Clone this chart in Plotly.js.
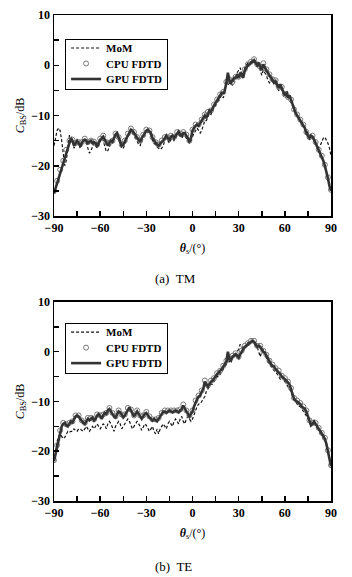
<!DOCTYPE html>
<html>
<head>
<meta charset="utf-8">
<script src="https://cdn.plot.ly/plotly-3.0.1.min.js"></script>
<style>html,body{margin:0;padding:0;background:#fff;}#chart{width:352px;height:577px;}</style>
</head>
<body>
<div id="chart"></div>
<script>
// angle grids (degrees)
var theta1 = [-90,-89,-88,-87,-86,-85,-84,-83,-82,-81,-80,-79,-78,-77,-76,-75,-74,-73,-72,-71,-70,-69,-68,-67,-66,-65,-64,-63,-62,-61,-60,-59,-58,-57,-56,-55,-54,-53,-52,-51,-50,-49,-48,-47,-46,-45,-44,-43,-42,-41,-40,-39,-38,-37,-36,-35,-34,-33,-32,-31,-30,-29,-28,-27,-26,-25,-24,-23,-22,-21,-20,-19,-18,-17,-16,-15,-14,-13,-12,-11,-10,-9,-8,-7,-6,-5,-4,-3,-2,-1,0,1,2,3,4,5,6,7,8,9,10,11,12,13,14,15,16,17,18,19,20,21,22,23,24,25,26,27,28,29,30,31,32,33,34,35,36,37,38,39,40,41,42,43,44,45,46,47,48,49,50,51,52,53,54,55,56,57,58,59,60,61,62,63,64,65,66,67,68,69,70,71,72,73,74,75,76,77,78,79,80,81,82,83,84,85,86,87,88,89,90];
var theta2 = [-90,-88,-86,-84,-82,-80,-78,-76,-74,-72,-70,-68,-66,-64,-62,-60,-58,-56,-54,-52,-50,-48,-46,-44,-42,-40,-38,-36,-34,-32,-30,-28,-26,-24,-22,-20,-18,-16,-14,-12,-10,-8,-6,-4,-2,0,2,4,6,8,10,12,14,16,18,20,22,24,26,28,30,32,34,36,38,40,42,44,46,48,50,52,54,56,58,60,62,64,66,68,70,72,74,76,78,80,82,84,86,88,90];

// (a) TM
var tmMoM = [-16,-14.5,-13,-12.5,-13,-15,-18,-20,-19,-16,-14,-14,-15,-16.5,-16,-15,-15.5,-16.5,-16,-15,-15,-15.5,-16.5,-17.5,-17,-16,-15.5,-16,-16.5,-16,-15,-14.5,-15,-16,-17.2,-17,-16,-15.5,-15.5,-14.8,-14,-14,-15,-16,-16.5,-16.5,-15.8,-15,-14,-13.5,-13.2,-13.5,-14,-14.5,-15,-15.8,-16,-15,-14.5,-14,-13.5,-13.2,-13.5,-14,-15,-15.5,-16,-16.3,-16.5,-16.8,-16.5,-16,-15,-14.5,-15,-15.5,-14.8,-14.5,-15,-14.5,-14,-13.8,-14.2,-14.5,-14,-14,-14.5,-15,-15.5,-15,-14,-13.5,-13,-12.5,-13,-13.5,-13,-12,-11,-11,-10,-9.5,-9.8,-9,-8.5,-8,-7.5,-7,-6.5,-6,-6.5,-5.5,-3,-4,-3.5,-3.5,-4,-3,-2,-1.5,-1,-0.5,-1.5,-2,-0.5,0,0.5,0.5,0.8,1,1.2,0.8,-0.5,0,-1,-2,-1,-1.5,-2,-3,-3.5,-3,-2.5,-3,-3.5,-4.5,-5,-4.5,-5,-5.5,-6,-5,-5.5,-6.5,-7.5,-8.5,-9,-9.5,-10,-10.5,-11,-11.5,-12,-12.5,-13,-13.5,-14,-14,-14.5,-15,-15.5,-16,-16.5,-16,-15,-14.5,-14.3,-14.8,-15.5,-16.5,-18];
var tmCPU = [-25,-23,-20.8,-19,-16.8,-15,-14.8,-15.5,-15.3,-15.3,-14.6,-15.3,-15,-15.2,-15.8,-14.6,-14,-15.3,-15.4,-15,-13.6,-14.3,-15.8,-15,-13.6,-12.6,-13.3,-14.3,-15,-13.8,-12.8,-13,-14.3,-15.3,-15.8,-15,-14.3,-14.3,-14,-14.3,-13.3,-13.6,-13.3,-13.8,-15,-12.8,-11.8,-11.8,-10.8,-9.8,-9.3,-9,-7.8,-6.8,-5.8,-5.3,-3.3,-2.8,-3.3,-2.3,-2.3,-1.8,-0.8,0.2,0.7,1.2,0.2,-0.3,0.4,-0.8,-1.8,-2.8,-3,-4.3,-4.3,-5.8,-6.3,-6.8,-8.8,-9.8,-10.8,-11.8,-13.3,-14.3,-14,-15.3,-16.8,-18,-19.8,-22.3,-24.8];
var tmGPU = [-25.5,-24.5,-23,-22,-21,-20,-19,-18,-17,-16,-15,-14.5,-15,-16,-15.5,-15,-15.5,-16,-15.5,-15,-14.8,-15,-15.5,-15.2,-15,-15.5,-15.3,-15.5,-16,-15.5,-14.8,-14.5,-14.2,-14.8,-15.5,-16,-15.5,-15,-15.2,-14.5,-13.8,-13.5,-14.5,-15.5,-16,-15.8,-15.2,-14.5,-13.8,-13.2,-12.8,-13,-13.5,-14,-14.5,-15,-15.3,-14.5,-14,-13.5,-13,-12.8,-13.2,-13.5,-14.5,-15,-15.5,-15.8,-16,-15.5,-15.2,-15,-14.5,-14,-14.5,-14.8,-14.2,-14,-14.5,-14,-13.5,-13.2,-13.8,-14,-13.5,-13.5,-14,-14.5,-15.3,-14.5,-13,-12.5,-12,-11.8,-12,-11.5,-11,-10.5,-10,-10.5,-9.5,-9,-9.2,-8.5,-8,-7.5,-7,-6.5,-6,-5.5,-5.5,-5,-3.5,-1.5,-3,-3.5,-3,-2.5,-2.5,-2,-2.5,-1.5,-2,-2.5,-1,-0.5,0,0.2,0.5,0.8,1,0.5,0,0.5,-0.5,-1,0.2,-0.5,-1,-1.5,-2,-2.5,-3,-3.5,-3.2,-4,-4.5,-3.8,-4.5,-5.5,-6,-5.5,-6.5,-6,-7,-8,-9,-9.5,-10,-10.5,-11,-11.5,-12,-12.5,-13.5,-14,-14.5,-14,-14.2,-14.8,-15.5,-16.2,-17,-17.5,-18.2,-19,-20,-21,-22.5,-24,-25];

// (b) TE
var teMoM = [-22,-20,-18,-17,-16.5,-17,-17.5,-17.2,-16.5,-16,-16.2,-16,-16,-15.5,-15.8,-16,-15.5,-15.5,-15.8,-16,-15.5,-15,-15.5,-16,-15.5,-15,-15.5,-15,-14.5,-15,-15.5,-15,-14.5,-14.8,-15.5,-14.5,-14,-14.5,-15.5,-16,-15,-14.5,-14,-14.5,-15.5,-15,-14.5,-14,-13.5,-14,-15,-15.5,-15,-14.5,-14,-14.5,-15,-15.8,-15,-14.5,-14.8,-15.5,-16,-15.5,-15,-16,-16.5,-15.5,-16.5,-15.5,-15,-14.5,-15,-15.5,-14.5,-14,-14.5,-15,-14,-13.5,-14,-14.5,-13.5,-13,-14,-14.5,-13.5,-13,-13.5,-14,-13.5,-12.5,-11.5,-11,-10.5,-10.5,-10,-9.5,-9,-8,-7.5,-7,-6.5,-6.5,-6,-5.5,-5,-5,-4.5,-4,-3.5,-3,-2.5,-1.5,-2,-1.5,-1,-0.5,-0.5,0,0.5,1.5,1,0.5,1,1.5,1.8,2,2.3,2,1.5,1.2,1,0,-1,0,0.5,-0.5,-1.5,-2,-2.5,-3,-3.5,-3.8,-4,-4.5,-5,-5.5,-5,-5.5,-6,-6.5,-7,-7.5,-8,-9,-9.5,-10,-10.5,-11,-11,-11.5,-12,-12.5,-13,-13.5,-14,-14.5,-14.8,-14.5,-14.8,-15.2,-15.5,-15.8,-16,-16.5,-17.5,-18.5,-20,-21.5,-23];
var teCPU = [-21.8,-18.8,-15.8,-14.3,-14.6,-14.3,-14,-12.8,-12.8,-13.8,-14.3,-13.3,-13.3,-13.6,-12.6,-12.8,-12.6,-12.3,-11.3,-12.3,-13,-11.8,-12.6,-12.6,-11.3,-11.6,-12.8,-11.8,-12.8,-12.8,-12.1,-13,-13.6,-13.6,-13.3,-12.3,-11.8,-11.8,-11.8,-11.8,-11.8,-11.6,-10.6,-11.8,-12.8,-11.8,-9.8,-8.8,-7.8,-5.8,-6.8,-5.8,-5.3,-4.3,-3.8,-2.8,-1.8,-1.3,-0.8,-0.3,-1,0.2,1.2,1.7,2.2,2.2,1.2,1.2,0.2,-0.6,-1.8,-2.6,-3.3,-3.8,-4.8,-5.3,-6,-7.3,-9.3,-9.8,-10.3,-11,-11.8,-13.8,-14.3,-14.3,-15.3,-16.3,-17.3,-19.8,-22.8];
var teGPU = [-22,-20.5,-19,-17.5,-16,-15,-14.5,-14.3,-14.8,-15,-14.5,-14,-14.2,-13.5,-13,-12.8,-13,-13.5,-14,-14.3,-14.5,-14,-13.5,-13.8,-13.5,-13.2,-13.8,-13.5,-12.8,-12.5,-13,-13.5,-12.8,-12.3,-12.5,-11.8,-11.5,-12,-12.5,-13,-13.2,-12.5,-12,-12.2,-12.8,-13.2,-12.8,-12.2,-11.5,-11.2,-11.8,-12.5,-13,-12.5,-12,-12.5,-13,-13.5,-13,-12.5,-12.3,-12.8,-13.2,-13.5,-13.8,-13.5,-13.8,-14,-13.5,-13,-12.5,-12,-12,-12.3,-12,-11.8,-12,-12.2,-12,-11.8,-12,-12.2,-11.8,-11.5,-10.8,-11.5,-12,-12.5,-13,-12.5,-12,-11,-10,-9.5,-9,-8.8,-8,-7.5,-6,-6.5,-7,-6.5,-6,-5.8,-5.5,-5,-4.5,-4.2,-4,-3.5,-3,-2.5,-2,0,-1.5,-1.8,-1,-0.8,-0.5,-0.8,-1.2,-0.5,0,0.5,1,1.2,1.5,1.8,2,2.2,2,1.5,1,1.2,1,0.5,0,-0.2,-0.8,-1.5,-2,-2.5,-2.8,-3,-3.5,-3.8,-4,-4.5,-5,-5.2,-5.5,-5.8,-6.2,-6.5,-7.5,-8.5,-9.5,-9.8,-10,-10.2,-10.5,-11,-11.2,-11.5,-12,-13,-14,-14.8,-14.5,-14,-14.5,-15,-15.5,-16,-16.5,-17,-17.5,-18.5,-20,-21.5,-23];

var seriesNames = ['MoM', 'CPU FDTD', 'GPU FDTD'];
var xTickVals = [-90, -60, -30, 0, 30, 60, 90];
var xMinorVals = [-75, -45, -15, 15, 45, 75];
var yTickVals = [-30, -20, -10, 0, 10];
var yMinorVals = [-25, -15, -5, 5];

var SERIF = 'Liberation Serif, Times New Roman, serif';

function traces(xa, ya, leg, mom, cpu, gpu) {
  return [
    {x: theta1, y: mom, xaxis: xa, yaxis: ya, legend: leg, name: seriesNames[0], mode: 'lines',
     line: {color: '#111', width: 1.2, dash: '3px,2px'}},
    {x: theta2, y: cpu, xaxis: xa, yaxis: ya, legend: leg, name: seriesNames[1], mode: 'markers',
     marker: {symbol: 'circle-open', size: 5, color: '#777', line: {width: 1, color: '#777'}}},
    {x: theta1, y: gpu, xaxis: xa, yaxis: ya, legend: leg, name: seriesNames[2], mode: 'lines',
     line: {color: '#333', width: 2.6}}
  ];
}

var data = traces('x', 'y', 'legend', tmMoM, tmCPU, tmGPU)
  .concat(traces('x2', 'y2', 'legend2', teMoM, teCPU, teGPU));

function xax(anchor) {
  return {
    anchor: anchor, domain: [0, 1], range: [-90, 90], tickvals: xTickVals,
    ticks: 'inside', ticklen: 5, tickwidth: 1.5, tickcolor: '#000',
    minor: {tickvals: xMinorVals, ticks: 'inside', ticklen: 5, tickwidth: 1.5, tickcolor: '#000'},
    showline: true, mirror: true, linecolor: '#000', linewidth: 1.5,
    showgrid: false, zeroline: false,
    tickfont: {family: SERIF, size: 12, color: '#000', weight: 'bold'},
    title: {text: '<b><i>θ</i></b><sub>s</sub>/(°)', font: {family: SERIF, size: 12, color: '#000'}, standoff: 9}
  };
}
function yax(anchor, dom) {
  return {
    anchor: anchor, domain: dom, range: [-30, 10], tickvals: yTickVals,
    ticks: 'inside', ticklen: 5, tickwidth: 1.5, tickcolor: '#000',
    minor: {tickvals: yMinorVals, ticks: 'inside', ticklen: 5, tickwidth: 1.5, tickcolor: '#000'},
    showline: true, mirror: true, linecolor: '#000', linewidth: 1.5,
    showgrid: false, zeroline: false,
    tickfont: {family: SERIF, size: 12, color: '#000', weight: 'bold'},
    title: {text: '<i>C</i><sub>BS</sub>/dB', font: {family: SERIF, size: 12, color: '#000'}, standoff: 4}
  };
}
function leg(y) {
  return {x: 0.04, y: y, xanchor: 'left', yanchor: 'top', bgcolor: '#fff',
    bordercolor: '#000', borderwidth: 1, itemwidth: 30, tracegroupgap: 0,
    font: {family: SERIF, size: 11, color: '#000', weight: 'bold'}};
}

var layout = {
  width: 352, height: 577,
  margin: {l: 54, r: 21, t: 15, b: 76},
  paper_bgcolor: '#fff', plot_bgcolor: '#fff',
  showlegend: true,
  xaxis: xax('y'), yaxis: yax('x', [0.5864, 1]),
  xaxis2: xax('y2'), yaxis2: yax('x2', [0, 0.4095]),
  legend: leg(0.9506), legend2: leg(0.366),
  annotations: [
    {text: '(a)  TM', xref: 'paper', yref: 'paper', x: 0.44, y: 0.4588, xanchor: 'center', yanchor: 'middle',
     showarrow: false, font: {family: SERIF, size: 13, color: '#000'}},
    {text: '(b)  TE', xref: 'paper', yref: 'paper', x: 0.43, y: -0.1358, xanchor: 'center', yanchor: 'middle',
     showarrow: false, font: {family: SERIF, size: 13, color: '#000'}}
  ]
};

// tighten legend rows to match the compact legend box of the figure
function tightenLegends(gd, firstY, spacing, boxHeight) {
  gd.querySelectorAll('g.infolayer > g').forEach(function (lg) {
    var cls = lg.getAttribute('class') || '';
    if (cls.indexOf('legend') !== 0) return;
    var items = lg.querySelectorAll('g.traces');
    items.forEach(function (it, i) {
      var m = /translate\(\s*([-\d.]+)/.exec(it.getAttribute('transform') || '');
      var x = m ? +m[1] : 1;
      it.setAttribute('transform', 'translate(' + x + ',' + (firstY + i * spacing) + ')');
    });
    var bg = lg.querySelector('rect.bg');
    if (bg) bg.setAttribute('height', boxHeight);
  });
}

Plotly.newPlot('chart', data, layout, {displayModeBar: false, staticPlot: true}).then(function (gd) {
  tightenLegends(gd, 9, 15.5, 50);
});
</script>
</body>
</html>
